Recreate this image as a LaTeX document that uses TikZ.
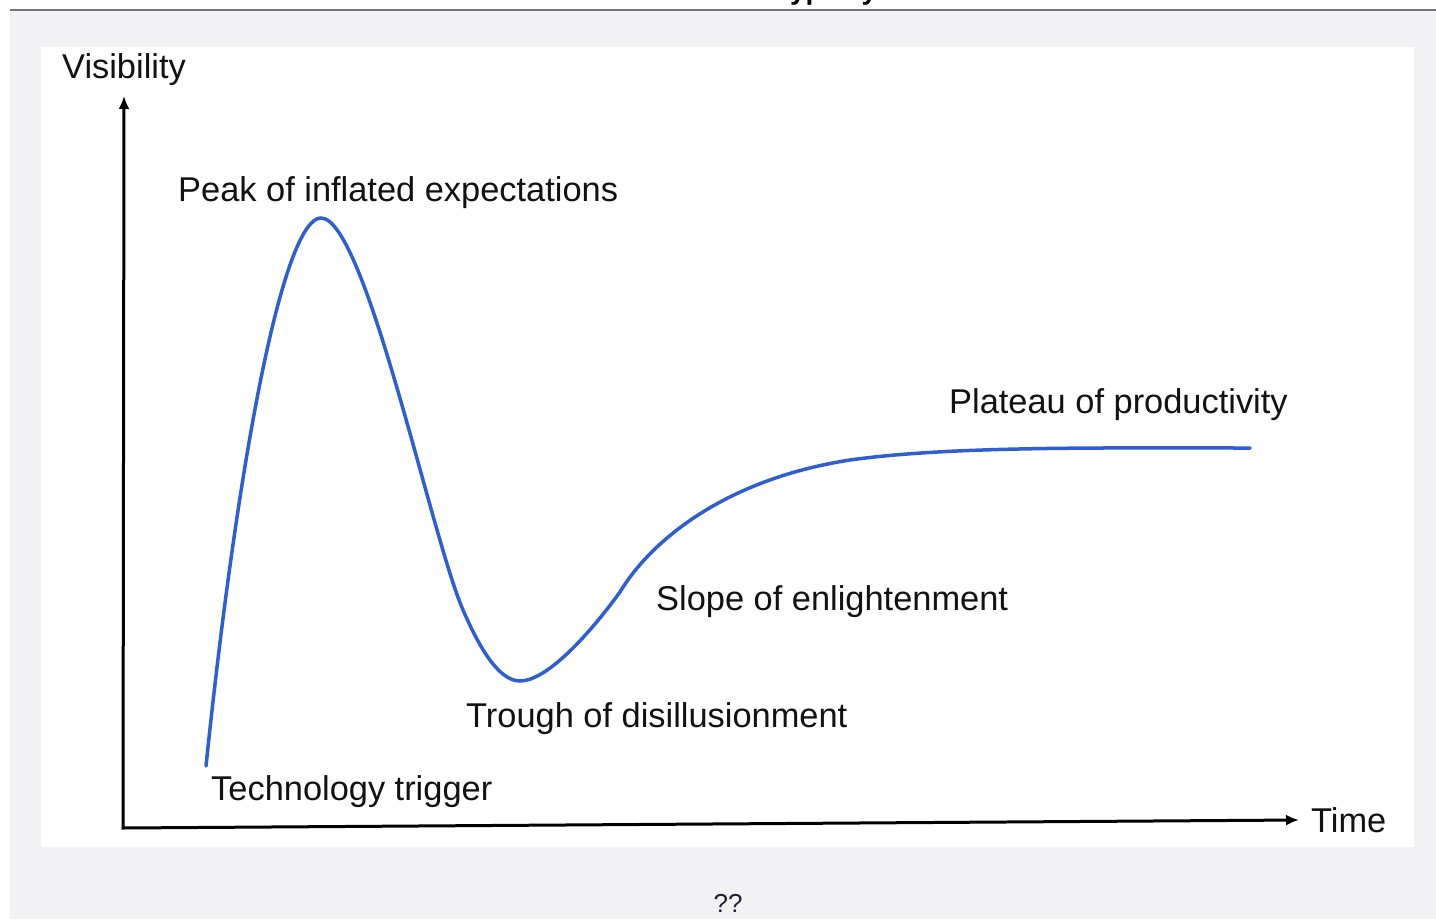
\documentclass[tikz,border=0pt]{standalone}
\usepackage{fontspec}
\setmainfont{Liberation Sans}
\usetikzlibrary{arrows.meta,positioning}
\definecolor{pagegray}{HTML}{F2F2F4}
\definecolor{rulegray}{HTML}{72727C}
\definecolor{hypeblue}{HTML}{2E5FD2}
\definecolor{captionink}{HTML}{1F2233}

\begin{document}
\begin{tikzpicture}[x=1pt,y=-1pt]
\tikzstyle{phase}=[inner sep=0pt,anchor=base west,
font=\fontsize{34.4}{40}\selectfont,text=black!93]
\tikzstyle{axis}=[line width=3pt,
{Latex[length=13pt,width=11pt]}-{Latex[length=13pt,width=11pt]}]
\tikzstyle{hype}=[hypeblue,line width=3.5pt,line cap=round]

% page, rule and white panel
\useasboundingbox (0,0) rectangle (1436,919);
\fill[pagegray] (10,11) rectangle (1436,919);
\fill[white] (41,47) rectangle (1414,847);

% heading, cut off by the top edge
\begin{scope}
\clip (0,0) rectangle (1436,919);
\node[font=\bfseries\fontsize{28}{34}\selectfont,anchor=base] (title) at (843,-1) {Hype cycle};
\end{scope}
\draw[rulegray,line width=2pt] (10,10) -- (1436,10);

% axes
\coordinate (o) at (123,828);
\coordinate (yend) at (124,96);
\coordinate (xend) at (1299,820);
\draw[axis] (yend) -- (o) -- (xend);

% the curve
\coordinate (trigger) at (206,766);
\coordinate (peak) at (321,218);
\coordinate (fall) at (463,610);
\coordinate (trough) at (520,681);
\coordinate (slope) at (620,592);
\coordinate (bend) at (850,460);
\coordinate (plateau) at (1250,448);

\draw[hype] (trigger) .. controls (240,440) and (285,218) .. (peak)
 .. controls (365,218) and (431,536) .. (fall)
 .. controls (477,642) and (497,681) .. (trough)
 .. controls (545,681) and (585,640) .. (slope)
 .. controls (648,545) and (720,480) .. (bend)
 .. controls (950,446) and (1100,448) .. (plateau);

\node[phase] at (62,78) (vis) {Visibility};
\node[phase,right=12pt of xend] (time) {Time};
\node[phase] at (178,201) (lpeak) {Peak of inflated expectations};
\node[phase] at (949,413) (lplateau) {Plateau of productivity};
\node[phase] at (656,610) (lslope) {Slope of enlightenment};
\node[phase] at (466,727) (ltrough) {Trough of disillusionment};
\node[phase] at (211,800) (ltrigger) {Technology trigger};

\node[font=\fontsize{26}{30}\selectfont,text=captionink,anchor=base] at (728,912) (caption) {??};

\end{tikzpicture}
\end{document}
